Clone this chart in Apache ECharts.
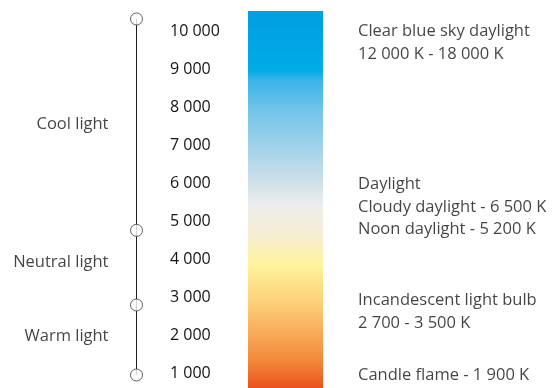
<!DOCTYPE html>
<html>
<head>
<meta charset="utf-8">
<script src="https://cdn.jsdelivr.net/npm/echarts@6/dist/echarts.min.js"></script>
<style>
html,body{margin:0;padding:0;background:#fff;}
#chart{width:558px;height:388px;}
</style>
</head>
<body>
<div id="chart"></div>
<script>
// ---- data ----
const tickValues = [1000, 2000, 3000, 4000, 5000, 6000, 7000, 8000, 9000, 10000];
const scaleRange = [630, 10530];               // Kelvin extent covered by the colour bar
const markerValues = [10320, 4770, 2810, 971];  // circles on the left scale line
const rangeNames = ['Cool light', 'Neutral light', 'Warm light'];
const rangeLabelValues = [7549, 3939, 1995];
const noteTexts = [
  'Clear blue sky daylight\n12 000 K - 18 000 K',
  'Daylight\nCloudy daylight - 6 500 K\nNoon daylight - 5 200 K',
  'Incandescent light bulb\n2 700 - 3 500 K',
  'Candle flame - 1 900 K'
];
const noteValues = [9690, 5383, 2626, 958];

// ---- styles ----
const FONT = 'Open Sans';
const TXT = '#141414';
const PAD = [4, 0, 0, 0];
const fmt = v => String(v).replace(/\B(?=(\d{3})+(?!\d))/g, ' ');

const chart = echarts.init(document.getElementById('chart'));
const grad = new echarts.graphic.LinearGradient(0, 0, 0, 1, [
  {offset: 0.00, color: '#009ee2'},
  {offset: 0.156, color: '#00abe6'},
  {offset: 0.183, color: '#38b4e6'},
  {offset: 0.263, color: '#72c4ea'},
  {offset: 0.369, color: '#a5d3ea'},
  {offset: 0.462, color: '#d4e2ea'},
  {offset: 0.515, color: '#ededed'},
  {offset: 0.594, color: '#f6eed4'},
  {offset: 0.674, color: '#fff39b'},
  {offset: 0.767, color: '#fdd27c'},
  {offset: 0.846, color: '#f8ae5c'},
  {offset: 0.926, color: '#f18a3a'},
  {offset: 1.00, color: '#e9531c'}
]);

const yBase = {type: 'value', min: scaleRange[0], max: scaleRange[1]};

chart.setOption({
  animation: false,
  backgroundColor: '#fff',
  textStyle: {fontFamily: FONT},
  grid: [
    {left: 248, width: 75, top: 11, bottom: 0},
    {left: 130, width: 13, top: 11, bottom: 0},
    {left: 358, right: 2, top: 11, bottom: 0}
  ],
  xAxis: [
    {gridIndex: 0, type: 'category', data: ['K'], show: false},
    {gridIndex: 1, type: 'value', min: 0, max: 1, show: false},
    {gridIndex: 2, type: 'value', min: 0, max: 1, show: false}
  ],
  yAxis: [
    Object.assign({}, yBase, {
      gridIndex: 0,
      axisLine: {show: false}, axisTick: {show: false}, splitLine: {show: false},
      axisLabel: {
        customValues: tickValues,
        formatter: fmt,
        align: 'left', margin: 78, padding: PAD,
        color: TXT, fontFamily: FONT, fontSize: 16
      }
    }),
    Object.assign({}, yBase, {gridIndex: 1, show: false}),
    Object.assign({}, yBase, {gridIndex: 2, show: false})
  ],
  series: [
    {
      type: 'custom', xAxisIndex: 0, yAxisIndex: 0,
      encode: {x: 0, y: [1, 2]},
      data: [[0, scaleRange[0], scaleRange[1]]],
      renderItem: function (params, api) {
        const top = api.coord([api.value(0), api.value(2)]);
        const bot = api.coord([api.value(0), api.value(1)]);
        const w = api.size([1, 0])[0];
        return {type: 'rect', shape: {x: top[0] - w / 2, y: top[1], width: w, height: bot[1] - top[1]}, style: {fill: grad}};
      }
    },
    {
      type: 'line', xAxisIndex: 1, yAxisIndex: 1, symbol: 'none', z: 2,
      lineStyle: {color: '#1d1d1b', width: 1},
      data: markerValues.map(v => [0.5, v])
    },
    {
      type: 'scatter', xAxisIndex: 1, yAxisIndex: 1, z: 3, clip: false,
      symbol: 'circle', symbolSize: 12,
      itemStyle: {color: '#fff', borderColor: '#3c3c3b', borderWidth: 1},
      data: markerValues.map(v => [0.5, v])
    },
    {
      type: 'scatter', xAxisIndex: 1, yAxisIndex: 1, symbolSize: 0, clip: false,
      label: {show: true, position: 'left', distance: 28, formatter: p => p.name,
        padding: PAD, color: TXT, fontFamily: FONT, fontSize: 16.5},
      data: rangeNames.map((n, i) => ({name: n, value: [0.5, rangeLabelValues[i]]}))
    },
    {
      type: 'scatter', xAxisIndex: 2, yAxisIndex: 2, symbolSize: 0, clip: false,
      label: {show: true, position: 'right', distance: 0, formatter: p => p.name,
        padding: PAD, color: TXT, fontFamily: FONT, fontSize: 16.5, lineHeight: 22.5, align: 'left'},
      data: noteTexts.map((t, i) => ({name: t, value: [0, noteValues[i]]}))
    }
  ]
});
</script>
</body>
</html>
